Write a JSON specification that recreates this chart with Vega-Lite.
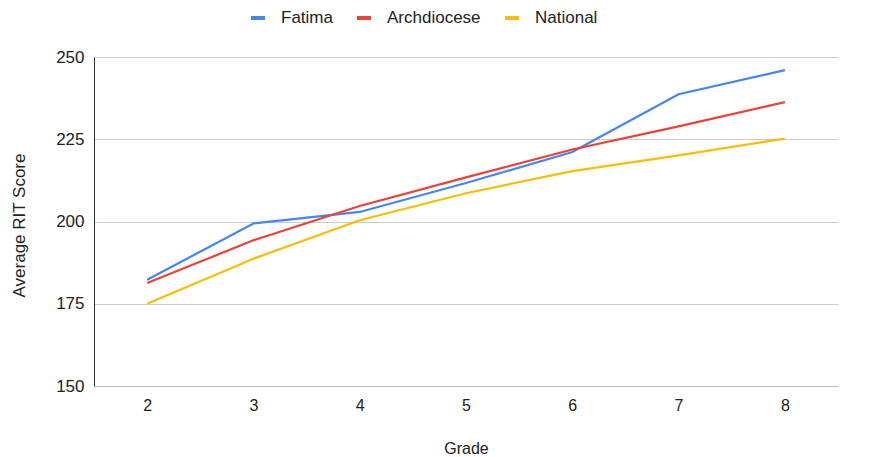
{
  "$schema": "https://vega.github.io/schema/vega-lite/v6.json",
  "autosize": "none",
  "width": 744,
  "height": 329,
  "padding": {"left": 94, "top": 57, "right": 34, "bottom": 71},
  "background": "white",
  "config": {
    "font": "Liberation Sans",
    "view": {"stroke": null}
  },
  "data": {
    "values": [
      {"grade": 2, "series": "Fatima", "score": 182.3},
      {"grade": 3, "series": "Fatima", "score": 199.4},
      {"grade": 4, "series": "Fatima", "score": 202.9},
      {"grade": 5, "series": "Fatima", "score": 211.7},
      {"grade": 6, "series": "Fatima", "score": 221.1},
      {"grade": 7, "series": "Fatima", "score": 238.7},
      {"grade": 8, "series": "Fatima", "score": 246.0},
      {"grade": 2, "series": "Archdiocese", "score": 181.3},
      {"grade": 3, "series": "Archdiocese", "score": 194.3},
      {"grade": 4, "series": "Archdiocese", "score": 204.7},
      {"grade": 5, "series": "Archdiocese", "score": 213.4},
      {"grade": 6, "series": "Archdiocese", "score": 221.9},
      {"grade": 7, "series": "Archdiocese", "score": 228.9},
      {"grade": 8, "series": "Archdiocese", "score": 236.3},
      {"grade": 2, "series": "National", "score": 175.0},
      {"grade": 3, "series": "National", "score": 188.7},
      {"grade": 4, "series": "National", "score": 200.4},
      {"grade": 5, "series": "National", "score": 208.6},
      {"grade": 6, "series": "National", "score": 215.3},
      {"grade": 7, "series": "National", "score": 220.1},
      {"grade": 8, "series": "National", "score": 225.2}
    ]
  },
  "mark": {"type": "line", "strokeWidth": 2.2},
  "encoding": {
    "x": {
      "field": "grade",
      "type": "quantitative",
      "scale": {"domain": [1.5, 8.5], "nice": false, "zero": false},
      "axis": {
        "title": "Grade",
        "values": [2, 3, 4, 5, 6, 7, 8],
        "grid": false,
        "domain": true,
        "domainColor": "#bbbbbb",
        "domainWidth": 1,
        "ticks": false,
        "labelPadding": 11,
        "labelFontSize": 16,
        "labelColor": "#222222",
        "titleFontSize": 16,
        "titleFontWeight": "normal",
        "titleColor": "#222222",
        "titleBaseline": "middle",
        "titleY": 62
      }
    },
    "y": {
      "field": "score",
      "type": "quantitative",
      "scale": {"domain": [150, 250], "nice": false, "zero": false},
      "axis": {
        "title": "Average RIT Score",
        "values": [150, 175, 200, 225, 250],
        "grid": true,
        "gridColor": "#cccccc",
        "gridWidth": 1,
        "domain": true,
        "domainColor": "#333333",
        "domainWidth": 1,
        "ticks": false,
        "labelPadding": 10,
        "labelFontSize": 17,
        "labelColor": "#222222",
        "titleFontSize": 17,
        "titleFontWeight": "normal",
        "titleColor": "#222222",
        "titleAngle": -90,
        "titleBaseline": "middle",
        "titleAlign": "center",
        "titleX": -75,
        "titleY": 168
      }
    },
    "color": {
      "field": "series",
      "type": "nominal",
      "sort": ["Fatima", "Archdiocese", "National"],
      "scale": {
        "domain": ["Fatima", "Archdiocese", "National"],
        "range": ["#4285F4", "#EA4335", "#FBBC04"]
      },
      "legend": {
        "title": null,
        "orient": "none",
        "direction": "horizontal",
        "legendX": 155,
        "legendY": -48,
        "symbolType": "stroke",
        "symbolStrokeWidth": 4,
        "symbolSize": 196,
        "labelFontSize": 17,
        "labelColor": "#222222",
        "labelOffset": 14,
        "columnPadding": 16
      }
    }
  }
}
